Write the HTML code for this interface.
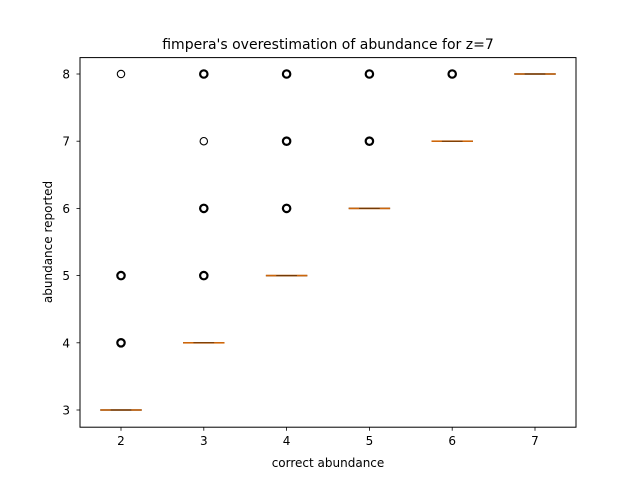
<!DOCTYPE html>
<html><head><meta charset="utf-8"><style>body{margin:0;background:#fff}svg{display:block;font-family:"DejaVu Sans","Liberation Sans",sans-serif}</style></head>
<body>
<svg id="chart" width="640" height="480">
<rect width="640" height="480" fill="#fff"/>
<text x="328" y="49" font-size="14" text-anchor="middle">fimpera's overestimation of abundance for z=7</text>
<text x="328" y="467" font-size="12" text-anchor="middle">correct abundance</text>
<text transform="translate(52,242) rotate(-90)" font-size="12" text-anchor="middle">abundance reported</text>
<g id="plot"></g>
<rect x="80" y="57.6" width="496" height="369.6" fill="none" stroke="#000" stroke-width="1"/>
</svg>
<script>
const categories = [2, 3, 4, 5, 6, 7];
const medians = [3, 4, 5, 6, 7, 8];
const outliers = [[4, 5, 8], [5, 6, 7, 8], [6, 7, 8], [7, 8], [8], []];
const outlierMany = [[1, 1, 0], [1, 1, 0, 1], [1, 1, 1], [1, 1], [1], []];
const yTicks = [3, 4, 5, 6, 7, 8];

const NS = "http://www.w3.org/2000/svg";
const g = document.getElementById('plot');
const xPos = v => 121 + (v - 2) * 82.8;
const yPos = v => 410 - (v - 3) * 67.2;
function mk(tag, attrs) { const e = document.createElementNS(NS, tag); for (const k in attrs) e.setAttribute(k, attrs[k]); g.appendChild(e); return e; }

categories.forEach((c, i) => {
  const x = xPos(c);
  const t = mk('line', {x1: x, x2: x, y1: 427.2, y2: 430.7, stroke: '#000', 'stroke-width': 0.8});
  
  
  const l = mk('text', {x: x, y: 445, 'font-size': 12, 'text-anchor': 'middle'});
  l.textContent = c;
  
  
  const y = yPos(medians[i]);
  const box = mk('line', {x1: x - 20.7, x2: x + 20.7, y1: y, y2: y, stroke: '#000', 'stroke-width': 1.5});
  
  
  const med = mk('line', {x1: x - 20.7, x2: x + 20.7, y1: y, y2: y, stroke: '#ff7f0e', 'stroke-width': 1.6, 'stroke-opacity': 0.8});
  
  
  const cap = mk('line', {x1: x - 10.35, x2: x + 10.35, y1: y, y2: y, stroke: '#000', 'stroke-width': 1, 'stroke-opacity': 0.5});
  
  
  outliers[i].forEach((o, j) => {
    const cc = mk('circle', {cx: x, cy: yPos(o), r: 3.7, fill: 'none', stroke: '#000', 'stroke-width': outlierMany[i][j] ? 2.2 : 1.1});
    
    
  });
});
yTicks.forEach(v => {
  const y = yPos(v);
  const t = mk('line', {x1: 76.5, x2: 80, y1: y, y2: y, stroke: '#000', 'stroke-width': 0.8});
  
  
  const l = mk('text', {x: 70, y: y + 4.5, 'font-size': 12, 'text-anchor': 'end'});
  l.textContent = v;
  
  
});
</script>
</body></html>
